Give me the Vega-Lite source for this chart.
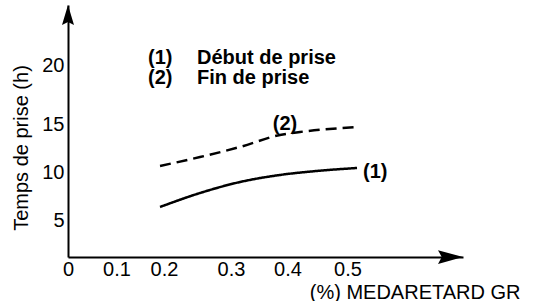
{
  "$schema": "https://vega.github.io/schema/vega-lite/v6.json",
  "width": 395,
  "height": 252,
  "autosize": {"type": "none"},
  "padding": {"left": 68, "top": 5, "right": 72, "bottom": 44},
  "background": "white",
  "config": {
    "view": {"stroke": null},
    "font": "Liberation Sans",
    "text": {"font": "Liberation Sans", "color": "black"}
  },
  "datasets": {
    "curves": [
      {"series": "1", "x": 0.1916, "y": 6.37},
      {"series": "1", "x": 0.2537, "y": 7.84},
      {"series": "1", "x": 0.316, "y": 9.0},
      {"series": "1", "x": 0.3867, "y": 9.74},
      {"series": "1", "x": 0.449, "y": 10.16},
      {"series": "1", "x": 0.5165, "y": 10.47},
      {"series": "2", "x": 0.1916, "y": 10.68},
      {"series": "2", "x": 0.2537, "y": 11.61},
      {"series": "2", "x": 0.316, "y": 12.66},
      {"series": "2", "x": 0.3867, "y": 13.91},
      {"series": "2", "x": 0.4208, "y": 14.22},
      {"series": "2", "x": 0.518, "y": 14.74}
    ],
    "curveLabels": [
      {"x": 0.548, "y": 10.05, "text": "(1)"},
      {"x": 0.3956, "y": 15.08, "text": "(2)"}
    ],
    "legend": [
      {"x": 0.1663, "y": 20.12, "text": "(1)"},
      {"x": 0.2493, "y": 20.12, "text": "Début de prise"},
      {"x": 0.1663, "y": 18.43, "text": "(2)"},
      {"x": 0.2493, "y": 18.43, "text": "Fin de prise"}
    ],
    "arrowY": [{"x": 0, "y": 25}],
    "arrowX": [{"x": 0.7, "y": 0}]
  },
  "encoding": {
    "x": {
      "field": "x",
      "type": "quantitative",
      "scale": {
        "domain": [0, 0.1, 0.2, 0.3, 0.4, 0.5, 0.7],
        "range": [0, 48.5, 96, 163, 219.5, 279.5, 395],
        "nice": false,
        "zero": false
      },
      "axis": {
        "values": [0, 0.1, 0.2, 0.3, 0.4, 0.5],
        "format": "~g",
        "grid": false,
        "ticks": false,
        "tickSize": 0,
        "domainColor": "black",
        "domainWidth": 2,
        "labelColor": "black",
        "labelFont": "Liberation Sans",
        "labelFontSize": 20,
        "labelPadding": 2,
        "labelBaseline": "top",
        "labelFlush": false,
        "labelOverlap": false,
        "title": "(%) MEDARETARD GR",
        "titleFont": "Liberation Sans",
        "titleFontSize": 20,
        "titleFontWeight": "normal",
        "titleColor": "black",
        "titleAlign": "right",
        "titleBaseline": "alphabetic",
        "titleX": 452,
        "titleY": 41
      }
    },
    "y": {
      "field": "y",
      "type": "quantitative",
      "scale": {
        "domain": [0, 5, 10, 15, 20, 25],
        "range": [252, 215, 167.5, 119.5, 60.5, 0],
        "nice": false,
        "zero": false
      },
      "axis": {
        "values": [5, 10, 15, 20],
        "grid": false,
        "ticks": false,
        "tickSize": 0,
        "domainColor": "black",
        "domainWidth": 2,
        "labelColor": "black",
        "labelFont": "Liberation Sans",
        "labelFontSize": 20,
        "labelPadding": 4,
        "labelFlush": false,
        "labelOverlap": false,
        "title": "Temps de prise (h)",
        "titleFont": "Liberation Sans",
        "titleFontSize": 20,
        "titleFontWeight": "normal",
        "titleColor": "black",
        "titleAngle": -90,
        "titleAlign": "center",
        "titleBaseline": "alphabetic",
        "titleX": -40.5,
        "titleY": 142.5
      }
    }
  },
  "layer": [
    {
      "data": {"name": "curves"},
      "mark": {"type": "line", "color": "black", "strokeWidth": 2.5, "interpolate": "monotone"},
      "encoding": {
        "detail": {"field": "series", "type": "nominal"},
        "strokeDash": {
          "field": "series",
          "type": "nominal",
          "scale": {"domain": ["1", "2"], "range": [[1, 0], [11, 6]]},
          "legend": null
        }
      }
    },
    {
      "data": {"name": "curveLabels"},
      "mark": {"type": "text", "fontSize": 20, "fontWeight": "bold", "align": "center", "baseline": "middle", "color": "black"},
      "encoding": {"text": {"field": "text", "type": "nominal"}}
    },
    {
      "data": {"name": "legend"},
      "mark": {"type": "text", "fontSize": 20, "fontWeight": "bold", "align": "left", "baseline": "alphabetic", "color": "black"},
      "encoding": {"text": {"field": "text", "type": "nominal"}}
    },
    {
      "data": {"name": "arrowY"},
      "mark": {"type": "point", "shape": "M0,0L0.6,2L0,1.7L-0.6,2Z", "size": 400, "filled": true, "color": "black", "opacity": 1, "strokeWidth": 0}
    },
    {
      "data": {"name": "arrowX"},
      "mark": {"type": "point", "shape": "M0,0L-2,-0.55L-1.7,0L-2,0.55Z", "size": 625, "filled": true, "color": "black", "opacity": 1, "strokeWidth": 0}
    }
  ]
}
